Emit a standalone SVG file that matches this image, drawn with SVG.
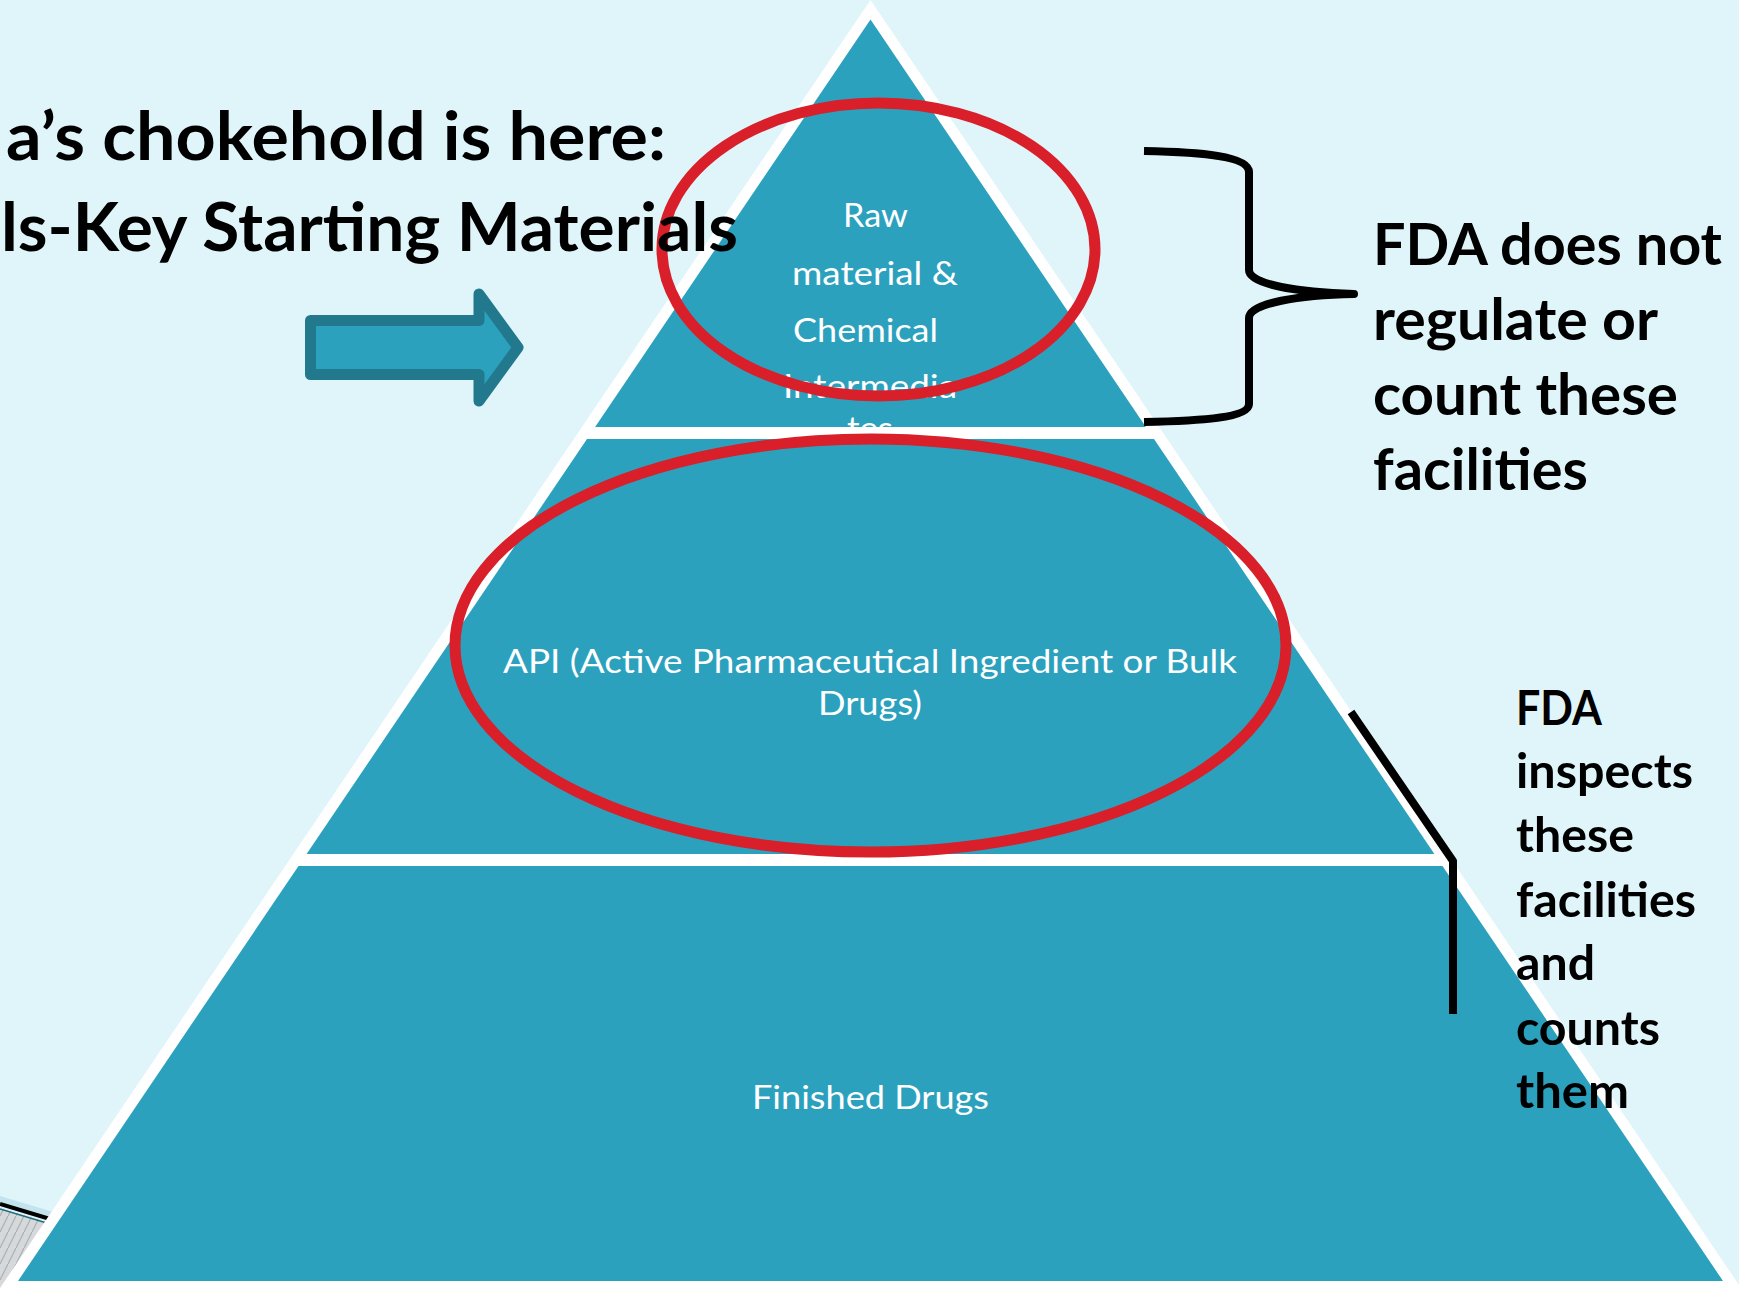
<svg xmlns="http://www.w3.org/2000/svg" width="1739" height="1290" viewBox="0 0 1739 1290">
<defs>
<style>
.bg{fill:#DFF5FA}
.layer{fill:#2CA1BE}
.edge{fill:#FFFFFF}
.lbl{font-family:Lato,"Open Sans","Liberation Sans",sans-serif;fill:#FFFFFF;font-size:33px}
.hd{font-family:Lato,"Open Sans","Liberation Sans",sans-serif;font-weight:bold;fill:#000000}
.ring{fill:none;stroke:#D81F2A;stroke-width:11}
.brk{fill:none;stroke:#000000;stroke-width:8;stroke-linejoin:round}
</style>
<clipPath id="topclip"><polygon points="870.5,19.5 595.1,427 1145.9,427"/></clipPath>
<pattern id="hatch" patternUnits="userSpaceOnUse" width="8" height="16">
<rect width="8" height="16" fill="#D6D9DB"/>
<path d="M8,0 L0,16" stroke="#A9AEB1" stroke-width="1.2"/>
</pattern>
</defs>

<rect class="bg" x="0" y="0" width="1739" height="1290"/>

<g id="corner-fragment">
<polygon points="0,1196 60,1214 60,1224 0,1206" fill="#C3E4EC"/>
<polygon points="0,1208 60,1226 60,1290 0,1290" fill="url(#hatch)"/>
<line x1="0" y1="1204" x2="60" y2="1222" stroke="#000" stroke-width="4"/>
<line x1="0" y1="1209" x2="60" y2="1227" stroke="#1F6F80" stroke-width="1.5"/>
</g>

<g id="pyramid-outline">
<polygon class="edge" points="870.5,0 -2,1291 1743,1291"/>
</g>

<g id="layer-top">
<polygon class="layer" points="870.5,19.5 595.1,427 1145.9,427"/>
<g clip-path="url(#topclip)">
<text class="lbl" x="843" y="227" textLength="65" lengthAdjust="spacingAndGlyphs">Raw</text>
<text class="lbl" x="792" y="285" textLength="166" lengthAdjust="spacingAndGlyphs">material &amp;</text>
<text class="lbl" x="793" y="342" textLength="145" lengthAdjust="spacingAndGlyphs">Chemical</text>
<text class="lbl" x="783" y="398" textLength="174" lengthAdjust="spacingAndGlyphs">Intermedia</text>
<text class="lbl" x="847" y="440" textLength="46" lengthAdjust="spacingAndGlyphs">tes</text>
</g>
</g>

<g id="layer-middle">
<polygon class="layer" points="587,439 1154,439 1434.4,854 306.6,854"/>
<text class="lbl" x="503" y="673" textLength="734" lengthAdjust="spacingAndGlyphs">API (Active Pharmaceutical Ingredient or Bulk</text>
<text class="lbl" x="818" y="715" textLength="104" lengthAdjust="spacingAndGlyphs">Drugs)</text>
</g>

<g id="layer-bottom">
<polygon class="layer" points="298.5,866 1442.5,866 1723,1281 18,1281"/>
<text class="lbl" x="752" y="1109" textLength="237" lengthAdjust="spacingAndGlyphs">Finished Drugs</text>
</g>

<g id="highlights">
<ellipse class="ring" cx="878.5" cy="249.5" rx="216.5" ry="146.5"/>
<ellipse class="ring" cx="870.5" cy="645.5" rx="415.5" ry="206.5"/>
</g>

<g id="arrow">
<path d="M310.5,320.5 H479 V294 L518,347.5 L479,401 V374.5 H310.5 Z" fill="#2CA1BE" stroke="#22798E" stroke-width="11" stroke-linejoin="round"/>
</g>

<g id="connectors">
<path class="brk" d="M1144,151 C1200,152 1249,156 1249,172 L1249,270 C1249,285 1300,292 1354,294 C1300,295 1249,303 1249,318 L1249,404 C1249,418 1200,421 1144,422"/>
<polyline class="brk" points="1351,712 1453,861 1453,1014"/>
</g>

<g id="heading">
<text class="hd" x="6" y="160" font-size="66" textLength="660" lengthAdjust="spacingAndGlyphs">a’s chokehold is here:</text>
<text class="hd" x="1" y="251" font-size="66" textLength="737" lengthAdjust="spacingAndGlyphs">ls-Key Starting Materials</text>
</g>

<g id="note-unregulated">
<text class="hd" x="1373" y="265" font-size="58" textLength="349" lengthAdjust="spacingAndGlyphs">FDA does not</text>
<text class="hd" x="1373" y="340" font-size="58" textLength="285" lengthAdjust="spacingAndGlyphs">regulate or</text>
<text class="hd" x="1373" y="415" font-size="58" textLength="305" lengthAdjust="spacingAndGlyphs">count these</text>
<text class="hd" x="1373" y="490" font-size="58" textLength="215" lengthAdjust="spacingAndGlyphs">facilities</text>
</g>

<g id="note-inspected">
<text class="hd" x="1516" y="725" font-size="48" textLength="86" lengthAdjust="spacingAndGlyphs">FDA</text>
<text class="hd" x="1516" y="788" font-size="48" textLength="177" lengthAdjust="spacingAndGlyphs">inspects</text>
<text class="hd" x="1516" y="852" font-size="48" textLength="118" lengthAdjust="spacingAndGlyphs">these</text>
<text class="hd" x="1516" y="917" font-size="48" textLength="180" lengthAdjust="spacingAndGlyphs">facilities</text>
<text class="hd" x="1516" y="980" font-size="48" textLength="79" lengthAdjust="spacingAndGlyphs">and</text>
<text class="hd" x="1516" y="1045" font-size="48" textLength="144" lengthAdjust="spacingAndGlyphs">counts</text>
<text class="hd" x="1516" y="1108" font-size="48" textLength="113" lengthAdjust="spacingAndGlyphs">them</text>
</g>
</svg>
